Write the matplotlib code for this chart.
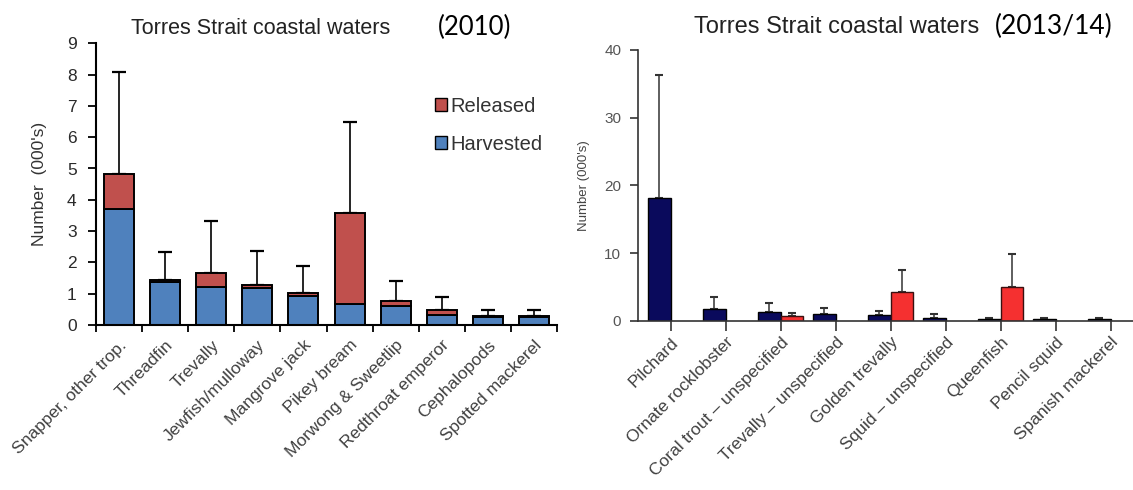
import matplotlib
matplotlib.use("Agg")
import matplotlib.pyplot as plt
import numpy as np
from matplotlib.patches import Patch

# 2010 panel
species_2010 = ["Snapper, other trop.", "Threadfin", "Trevally", "Jewfish/mulloway",
                "Mangrove jack", "Pikey bream", "Morwong & Sweetlip",
                "Redthroat emperor", "Cephalopods", "Spotted mackerel"]
harvested_2010 = [3.72, 1.37, 1.22, 1.18, 0.94, 0.68, 0.62, 0.32, 0.24, 0.24]
released_2010 = [1.09, 0.06, 0.43, 0.09, 0.08, 2.89, 0.16, 0.16, 0.06, 0.06]
errtop_2010 = [8.08, 2.32, 3.32, 2.38, 1.90, 6.47, 1.42, 0.90, 0.47, 0.47]

# 2013/14 panel
species_1314 = ["Pilchard", "Ornate rocklobster", "Coral trout \u2013 unspecified",
                "Trevally \u2013 unspecified", "Golden trevally", "Squid \u2013 unspecified",
                "Queenfish", "Pencil squid", "Spanish mackerel"]
blue_1314 = [18.2, 1.8, 1.3, 1.05, 0.8, 0.45, 0.25, 0.22, 0.22]
blue_err_1314 = [36.3, 3.55, 2.6, 1.93, 1.5, 1.0, 0.45, 0.42, 0.38]
red_1314 = [0, 0, 0.65, 0, 4.3, 0, 5.0, 0, 0]
red_err_1314 = [0, 0, 1.15, 0, 7.45, 0, 9.9, 0, 0]

plt.rcParams["font.family"] = ["Liberation Sans", "DejaVu Sans"]

fig = plt.figure(figsize=(11.33, 4.9), dpi=100)

# ---- left panel ----
ax1 = fig.add_axes([96/1133, 165/490, 461/1133, 281.7/490])
x = np.arange(len(species_2010))
w = 0.65
harv = np.array(harvested_2010)
rel = np.array(released_2010)
ax1.bar(x, harv, w, color="#4F81BD", edgecolor="black", linewidth=1.4, zorder=2)
ax1.bar(x, rel, w, bottom=harv, color="#C0504D", edgecolor="black", linewidth=1.4, zorder=2)
tot = harv + rel
ax1.errorbar(x, tot, yerr=[np.zeros_like(tot), np.array(errtop_2010) - tot],
             fmt="none", ecolor="black", elinewidth=1.2, capsize=5, capthick=1.6, zorder=1)
ax1.set_xlim(-0.5, len(x) - 0.5)
ax1.set_ylim(0, 9)
ax1.set_yticks(range(10))
ax1.set_xticks(x)
ax1.set_xticklabels(species_2010, rotation=45, ha="right", rotation_mode="anchor",
                    fontsize=12.5, color="#404040")
ax1.set_xticks(np.arange(len(x) + 1) - 0.5, minor=True)
ax1.tick_params(axis="x", which="major", length=0, pad=9)
ax1.tick_params(axis="x", which="minor", length=5, width=1.3, direction="out")
ax1.tick_params(axis="y", length=6, width=1.3, labelsize=12.5, labelcolor="#2a2a2a", pad=8)
for s in ["top", "right"]:
    ax1.spines[s].set_visible(False)
for s in ["left", "bottom"]:
    ax1.spines[s].set_linewidth(1.5)
ax1.set_ylabel("Number  (000's)", fontsize=12.5, color="#333333", labelpad=14)
ax1.legend(handles=[Patch(facecolor="#C0504D", edgecolor="black", label="Released"),
                    Patch(facecolor="#4F81BD", edgecolor="black", label="Harvested")],
           loc="upper left", bbox_to_anchor=(0.735, 0.81), frameon=False, fontsize=14.5,
           borderpad=0, borderaxespad=0,
           handlelength=0.6, handleheight=0.6, handletextpad=0.15, labelspacing=0.95,
           labelcolor="#333333")

fig.text(261/1133, 1 - 28/490, "Torres Strait coastal waters", ha="center", va="center",
         fontsize=15.5, color="#222222")
fig.text(438/1133, 1 - 27/490, "(2010)", ha="left", va="center", fontsize=18.5,
         family=["Lato", "DejaVu Sans"], color="black")

# ---- right panel ----
ax2 = fig.add_axes([638/1133, (490 - 320.7)/490, 495/1133, 270.7/490])
x2 = np.arange(len(species_1314))
w2 = 0.41
blue = np.array(blue_1314)
ax2.bar(x2 - w2/2, blue, w2, color="#0A0A5C", edgecolor="black", linewidth=1.0, zorder=2)
ax2.errorbar(x2 - w2/2, blue, yerr=[np.zeros_like(blue), np.array(blue_err_1314) - blue],
             fmt="none", ecolor="#333333", elinewidth=1.1, capsize=3, capthick=1.5, zorder=1)
red = np.array(red_1314)
m = red > 0
ax2.bar(x2[m] + w2/2, red[m], w2, color="#F53030", edgecolor="#3a1010", linewidth=1.0, zorder=2)
ax2.errorbar(x2[m] + w2/2, red[m], yerr=[np.zeros(m.sum()), np.array(red_err_1314)[m] - red[m]],
             fmt="none", ecolor="#333333", elinewidth=1.1, capsize=3, capthick=1.5, zorder=1)
ax2.set_xlim(-0.595, 8.405)
ax2.set_ylim(0, 40)
ax2.set_yticks([0, 10, 20, 30, 40])
ax2.set_xticks(x2)
ax2.set_xticklabels(species_1314, rotation=45, ha="right", rotation_mode="anchor",
                    fontsize=12.5, color="#404040")
ax2.tick_params(axis="x", length=7, width=1.2, color="#333333", pad=3)
ax2.tick_params(axis="y", length=6, width=1.2, color="#333333", labelsize=11,
                labelcolor="#555555", pad=6)
for s in ["top", "right"]:
    ax2.spines[s].set_visible(False)
for s in ["left", "bottom"]:
    ax2.spines[s].set_linewidth(1.2)
    ax2.spines[s].set_color("#333333")
ax2.set_ylabel("Number (000's)", fontsize=9.5, color="#444444", labelpad=10)

fig.text(837/1133, 1 - 27/490, "Torres Strait coastal waters", ha="center", va="center",
         fontsize=17, color="#222222")
fig.text(995/1133, 1 - 26/490, "(2013/14)", ha="left", va="center", fontsize=19,
         family=["Lato", "DejaVu Sans"], color="black")

fig.savefig("out.png", dpi=100)
